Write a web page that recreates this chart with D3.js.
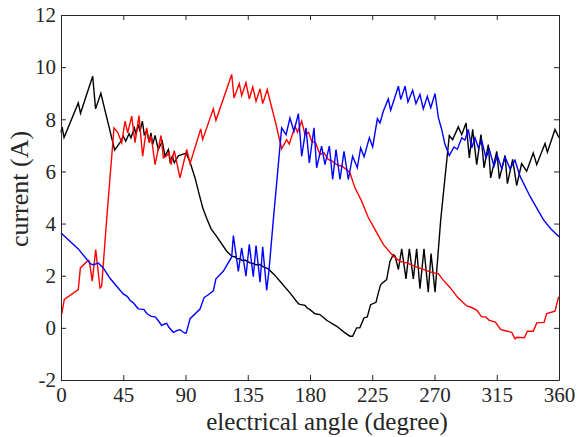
<!DOCTYPE html>
<html><head><meta charset="utf-8">
<script src="https://cdn.jsdelivr.net/npm/d3@7"></script>
<style>
body{margin:0;background:#fff}
svg{display:block}
text{font-family:"Liberation Serif","Times New Roman",serif;fill:#262626}
</style>
</head><body><svg id="c" width="581" height="437"></svg>
<script>
// ---- data ----
const xTicks = [0,45,90,135,180,225,270,315,360];
const yTicks = [-2,0,2,4,6,8,10,12];
const xLabel = "electrical angle (degree)";
const yLabel = "current (A)";

const blackX = [0,0.8,2.2,12.5,14.1,22.9,25.0,28.8,38.8,42.6,45.0,46.8,49.2,50.6,53.0,54.2,55.9,57.1,58.8,60.2,62.0,63.8,65.0,66.3,68.0,70.3,73.2,75.2,77.6,78.8,80.5,81.9,84.8,90.5,93,96.9,100,102.5,105.3,108.5,112.6,119.8,123.4,126,127,129.4,131,133,136.6,139,141,143.9,146,149.9,154,158.3,165.5,171.6,172.8,176.4,178,180,183.6,187.2,190.8,192,199.3,205.3,208.9,210.8,213.7,216,219,221.4,223.8,227.7,229.4,231.1,235.4,237.8,240.2,241.5,243.9,246.3,249.4,251.8,254.7,257.1,259.5,262.4,265.5,267.5,270.4,274.5,280.7,283.1,287.2,289.7,292.8,295.2,297.6,300.5,303.6,305.8,308.9,310.6,315.0,316.9,321.0,322.7,326.5,329.4,333.0,336.6,341.4,343.9,349.9,351.6,357.1,360];
const blackY = [7.5,7.7,7.3,8.63,8.23,9.65,8.40,9.0,6.82,7.10,7.35,7.16,7.45,7.29,7.67,7.45,7.80,7.54,7.93,7.41,7.55,7.12,7.48,7.03,7.38,6.84,7.16,6.58,6.84,6.39,6.58,6.33,6.6,6.7,6.4,5.75,5.1,4.6,4.2,3.8,3.5,2.94,2.75,2.72,2.65,2.65,2.58,2.6,2.49,2.47,2.42,2.43,2.35,2.26,2.05,1.79,1.34,0.93,0.90,0.86,0.76,0.70,0.54,0.51,0.35,0.29,0.06,-0.19,-0.32,-0.32,0.0,0.0,0.38,0.42,0.89,0.98,1.34,1.66,1.85,2.55,2.81,2.75,2.24,3.03,1.88,3.03,1.88,3.03,1.50,3.03,1.37,2.85,1.37,4.15,7.38,7.22,7.71,7.41,7.86,6.52,7.61,6.26,7.41,6.14,7.03,5.75,6.77,5.72,6.61,5.53,6.46,5.46,6.30,6.01,6.71,6.26,7.07,6.74,7.61,7.29];

const redX = [0,0.6,2.4,12.5,14.0,19.7,20.5,22.6,25.1,28.2,29.4,33.0,38.3,41.0,43.9,46.3,48.2,51.1,53.5,56.4,59.0,61.9,63.8,65.2,68.0,72.3,74.0,76.5,78.1,79.5,81.9,86.0,90.9,93.3,101.0,102.4,110.1,112.0,123.4,125.1,128.9,130.6,133.7,136.1,138.6,141.0,143.9,145.8,149.1,151.1,155,159.5,163.1,165.0,169.2,171.0,174.0,176.4,179.0,181.2,184.0,187.2,190.0,193.2,196.0,199.3,203.0,206.5,208.9,212.5,217.4,222.0,227.0,233.0,240.2,245.0,249.9,255.9,261.9,268.0,272.8,276,281.2,287,293.3,296,300.5,304.1,307,309.6,314,317.9,322,325.8,328.2,329.5,335.0,337.1,341.4,343.9,349.2,351.1,357.1,359.5,360];
const redY = [0.51,0.55,1.09,1.47,2.30,2.59,2.55,1.79,3.00,1.53,1.6,4.15,7.67,7.50,7.10,7.93,7.48,8.12,7.10,8.14,6.58,7.67,7.10,7.35,6.26,7.38,6.52,6.6,6.74,6.26,6.80,5.75,6.84,6.30,7.63,7.22,8.40,7.96,9.72,8.82,9.37,8.91,9.40,8.78,9.24,8.69,9.17,8.60,9.14,8.7,7.9,6.87,7.22,7.05,7.73,7.50,7.93,7.41,7.50,7.16,7.10,6.65,6.72,6.46,6.40,6.26,6.20,6.07,5.94,5.37,4.85,4.25,3.77,3.20,2.75,2.55,2.49,2.36,2.24,2.13,2.08,1.85,1.55,1.15,0.84,0.80,0.68,0.42,0.42,0.29,0.22,-0.07,-0.12,-0.17,-0.42,-0.36,-0.38,-0.13,-0.13,0.19,0.21,0.55,0.64,1.15,1.19];

const blueX = [0,12.5,21.0,23,25,27.0,30.6,35.4,41,45,48,50,52.3,54,55.9,58,60,62,65.2,68,70,72.8,74.5,76.4,78,81.2,84,86,88,89.6,90.5,93.3,100.5,103.5,106,110.1,112,117.3,123.4,124.6,128.2,130.6,133.7,136.1,139.0,141.0,143.9,145.8,148.7,150.4,153.5,159.5,162.7,165.5,168.4,171.6,174.0,177.1,179.5,182.9,184.8,188.4,190.8,194.0,196.4,198.8,201.7,204.6,207.7,210.8,214.2,216.6,219.1,222.9,225.3,228.7,230.6,233.0,236.6,238.3,243.9,245.6,248.7,250.8,254.2,256.6,259.5,261.9,264.8,267.3,270.4,272.8,275.2,277.5,280.7,284.1,286.5,289.7,292,294.4,296.9,299.3,301.7,304.1,307.2,309.6,313.0,315.4,318.6,321.0,324.6,328.2,331.8,339.0,348.7,354,360];
const blueY = [3.64,3.03,2.47,2.42,2.45,2.49,2.30,1.90,1.55,1.30,1.2,1.05,0.96,0.85,0.73,0.72,0.70,0.55,0.44,0.42,0.30,0.09,0.14,0.17,0.02,-0.17,-0.10,-0.07,-0.15,-0.20,-0.20,0.35,0.72,1.17,1.25,1.42,1.88,2.17,2.72,3.54,2.17,3.07,1.98,3.20,1.96,3.16,1.75,3.11,1.44,2.24,4.15,7.67,7.41,8.05,7.54,8.22,6.58,7.67,6.33,7.67,6.14,6.97,6.26,6.97,5.69,6.84,5.69,6.77,5.69,6.58,6.14,6.90,6.56,7.29,6.94,8.02,7.86,8.31,8.78,8.35,9.27,8.76,9.27,8.66,9.11,8.60,8.95,8.40,8.88,8.44,8.99,8.06,7.61,7.05,6.61,6.94,6.85,7.29,7.2,7.61,6.90,7.29,6.90,7.20,6.52,6.84,6.20,6.61,6.10,6.56,6.10,6.43,5.82,5.05,4.15,3.8,3.49];

const seriesColors = ["#000000","#ff0000","#0000ff"];

// ---- chart ----
const FONT = '"Liberation Serif","Times New Roman",serif';
const svg = d3.select("#c");
const L = 61, R = 559, T = 15, B = 380;
const x = d3.scaleLinear().domain([0,360]).range([L,R]);
const y = d3.scaleLinear().domain([-2,12]).range([B,T]);

const series = [
  {xs: blackX, ys: blackY},
  {xs: redX, ys: redY},
  {xs: blueX, ys: blueY}
];
const line = d3.line().x(d => x(d[0])).y(d => y(d[1]));
series.forEach((s, i) => {
  svg.append("path")
    .datum(s.xs.map((v, j) => [v, s.ys[j]]))
    .attr("fill", "none")
    .attr("stroke", seriesColors[i])
    .attr("stroke-width", 1.4)
    .attr("d", line);
});

const axColor = "#262626";
function style(g, labels) {
  g.attr("font-family", FONT).attr("font-size", 21);
  g.select(".domain").attr("stroke", axColor);
  g.selectAll(".tick line").attr("stroke", axColor);
  g.selectAll(".tick text").attr("fill", axColor).style("font-family", FONT);
  if (!labels) g.selectAll(".tick text").remove();
}
const fmt = v => String(v);
svg.append("g").attr("transform", `translate(0,${B})`)
  .call(d3.axisBottom(x).tickValues(xTicks).tickFormat(fmt).tickSizeInner(-5).tickSizeOuter(0).tickPadding(7))
  .call(g => style(g, true));
svg.append("g").attr("transform", `translate(0,${T})`)
  .call(d3.axisTop(x).tickValues(xTicks).tickSizeInner(-5).tickSizeOuter(0))
  .call(g => style(g, false));
svg.append("g").attr("transform", `translate(${L},0)`)
  .call(d3.axisLeft(y).tickValues(yTicks).tickFormat(fmt).tickSizeInner(-5).tickSizeOuter(0).tickPadding(5))
  .call(g => style(g, true));
svg.append("g").attr("transform", `translate(${R},0)`)
  .call(d3.axisRight(y).tickValues(yTicks).tickSizeInner(-5).tickSizeOuter(0))
  .call(g => style(g, false));

svg.append("text").attr("x", 327).attr("y", 430).attr("text-anchor", "middle")
  .style("font-family", FONT).attr("font-size", 25).text(xLabel);
svg.append("text").attr("transform", "translate(28,189) rotate(-90)").attr("text-anchor", "middle")
  .style("font-family", FONT).attr("font-size", 26).text(yLabel);
</script></body></html>
